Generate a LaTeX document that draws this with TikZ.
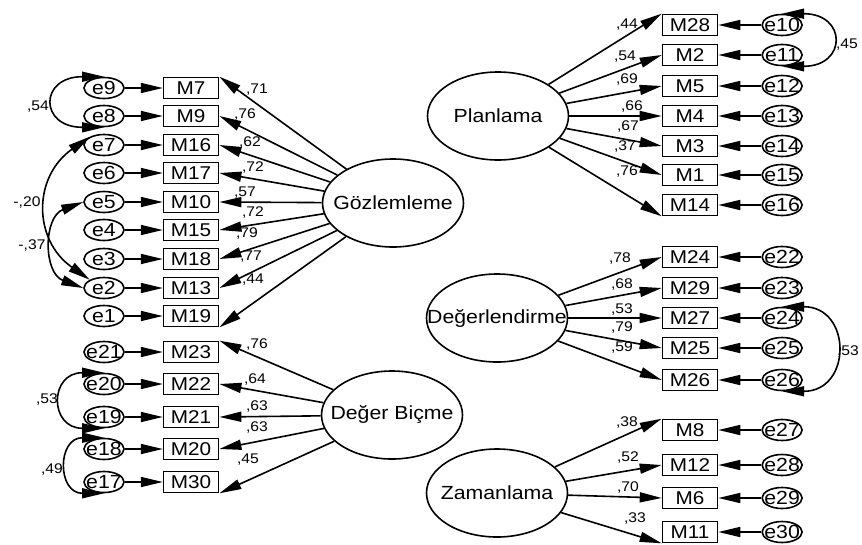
\documentclass[tikz,border=0pt]{standalone}
\usepackage{fontspec}
\setmainfont{Liberation Sans}[FakeStretch=1.12]
\usetikzlibrary{shapes.geometric, arrows.meta, positioning}

\begin{document}
\begin{tikzpicture}[x=1pt, y=-1pt, line width=1.6pt,
    latent/.style={ellipse, draw, minimum width=141pt, minimum height=88pt, inner sep=0pt},
    item/.style={rectangle, draw, minimum width=55pt, minimum height=21pt, inner sep=0pt, font=\fontsize{18.5}{18.5}\selectfont},
    err/.style={ellipse, draw, minimum width=40pt, minimum height=21pt, inner sep=0pt},
    lbl/.style={inner sep=0pt, font=\fontsize{14}{14}\selectfont},
    every label/.style={inner sep=0pt, font=\fontsize{19}{19}\selectfont},
    load/.style={-{Triangle[length=22pt, width=10pt]}},
    cov/.style={{Triangle[length=22pt, width=10pt]}-{Triangle[length=22pt, width=10pt]}}]

    \useasboundingbox (0,0) rectangle (862,544);

    \node [latent, label=center:Gözlemleme] (gozlem) at (393,203) {};
    \node [latent, label=center:Değer Biçme] (degerbic) at (392,415) {};
    \node [latent, label=center:Planlama] (planlama) at (498,116) {};
    \node [latent, label=center:Değerlendirme] (degerlen) at (497,318) {};
    \node [latent, label=center:Zamanlama] (zaman) at (497,493) {};

    \foreach \e/\m/\y/\a/\w/\lx/\ly in {9/7/88/north east/{,71}/257/90, 8/9/116/east/{,76}/245/115,
        7/16/145/east/{,62}/250/143, 6/17/173/east/{,72}/253/168, 5/10/202/east/{,57}/245/193,
        4/15/230/east/{,72}/253/213, 3/18/259/east/{,79}/247/234, 2/13/288/east/{,77}/251/257,
        1/19/316/south east/{,44}/253/280} {
        \node [err, label=center:e\e] (e\e) at (104,\y) {};
        \node [item, right=38pt of e\e] (m\m) {M\m};
        \draw [load] (e\e) -- (m\m);
        \draw [load] (gozlem) -- (m\m.\a);
        \node [lbl] (w\m) at (\lx,\ly) {\w};
    }

    \foreach \e/\m/\y/\a/\w/\lx/\ly in {21/23/352/north east/{,76}/257/345, 20/22/384/east/{,64}/255/380,
        19/21/417/east/{,63}/257/407, 18/20/449/east/{,63}/257/428, 17/30/482/south east/{,45}/248/460} {
        \node [err, label=center:e\e] (e\e) at (104,\y) {};
        \node [item, right=38pt of e\e] (m\m) {M\m};
        \draw [load] (e\e) -- (m\m);
        \draw [load] (degerbic) -- (m\m.\a);
        \node [lbl] (w\m) at (\lx,\ly) {\w};
    }

    \foreach \m/\e/\y/\a/\w/\lx/\ly in {28/10/25/north west/{,44}/627/25, 2/11/55/west/{,54}/625/57,
        5/12/86/west/{,69}/627/80, 4/13/116/west/{,66}/632/107, 3/14/146/west/{,67}/628/127,
        1/15/175/west/{,37}/625/147, 14/16/205/south west/{,76}/627/172} {
        \node [item] (m\m) at (690,\y) {M\m};
        \node [err, right=43pt of m\m, label=center:e\e] (e\e) {};
        \draw [load] (e\e) -- (m\m);
        \draw [load] (planlama) -- (m\m.\a);
        \node [lbl] (w\m) at (\lx,\ly) {\w};
    }

    \foreach \m/\e/\y/\a/\w/\lx/\ly in {24/22/257/west/{,78}/620/259, 29/23/288/west/{,68}/622/285,
        27/24/318/west/{,53}/622/310, 25/25/348/west/{,79}/622/328, 26/26/380/west/{,59}/622/348} {
        \node [item] (m\m) at (690,\y) {M\m};
        \node [err, right=43pt of m\m, label=center:e\e] (e\e) {};
        \draw [load] (e\e) -- (m\m);
        \draw [load] (degerlen) -- (m\m.\a);
        \node [lbl] (w\m) at (\lx,\ly) {\w};
    }

    \foreach \m/\e/\y/\a/\w/\lx/\ly in {8/27/430/north west/{,38}/627/423, 12/28/465/west/{,52}/628/458,
        6/29/498/west/{,70}/628/487, 11/30/532/south west/{,33}/635/518} {
        \node [item] (m\m) at (690,\y) {M\m};
        \node [err, right=43pt of m\m, label=center:e\e] (e\e) {};
        \draw [load] (e\e) -- (m\m);
        \draw [load] (zaman) -- (m\m.\a);
        \node [lbl] (w\m) at (\lx,\ly) {\w};
    }

    \draw [cov] (e9.north) .. controls +(-65,0) and +(-65,0) .. (e8.south);
    \draw [cov] (e7.150) .. controls +(-57,40) and +(-57,-40) .. (e2.150);
    \draw [cov] (e5.west) .. controls +(-40,15) and +(-40,-15) .. (e2.west);
    \draw [cov] (e20.north) .. controls +(-55,0) and +(-55,0) .. (e19.south);
    \draw [cov] (e18.north) .. controls +(-47,0) and +(-47,0) .. (e17.south);
    \draw [cov] (e10.north) .. controls +(65,0) and +(65,0) .. (e11.south);
    \draw [cov] (e24.north) .. controls +(70,0) and +(70,0) .. (e26.south);

    \node [lbl] (c98) at (38,107) {,54};
    \node [lbl] (c72) at (27,203) {-,20};
    \node [lbl] (c52) at (32,246) {-,37};
    \node [lbl] (c2019) at (47,400) {,53};
    \node [lbl] (c1817) at (52,470) {,49};
    \node [lbl] (c1011) at (847,45) {,45};
    \node [lbl] (c2426) at (848,352) {,53};

\end{tikzpicture}
\end{document}
